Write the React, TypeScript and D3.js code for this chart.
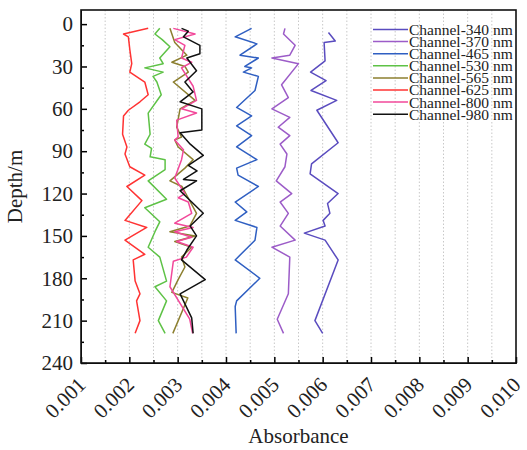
import * as d3 from "d3";
import { useEffect, useRef } from "react";

// depth (m) and absorbance, one pair of arrays per channel
const depth340 = [6, 12, 13, 26, 34, 40, 47, 54, 61, 84, 99, 106, 120, 127, 134, 139, 143, 148, 153, 167, 210, 219];
const abs340 = [0.00612, 0.00626, 0.00603, 0.00605, 0.00575, 0.00607, 0.00576, 0.00629, 0.00588, 0.00632, 0.00577, 0.00574, 0.00632, 0.0061, 0.00615, 0.00601, 0.00605, 0.00562, 0.00605, 0.00632, 0.00584, 0.006];

const depth370 = [3, 7, 15, 22, 24, 28, 43, 52, 60, 66, 73, 79, 85, 92, 101, 111, 120, 126, 134, 143, 153, 158, 165, 191, 209, 219];
const abs370 = [0.00522, 0.00519, 0.00543, 0.00532, 0.00495, 0.0055, 0.00515, 0.00529, 0.00495, 0.00532, 0.00508, 0.00532, 0.00512, 0.00526, 0.00522, 0.00504, 0.00536, 0.00512, 0.00529, 0.00512, 0.00543, 0.00495, 0.00532, 0.00529, 0.00506, 0.00519];

const depth465 = [3, 9, 14, 22, 24, 30, 31, 34, 37, 47, 59, 65, 72, 79, 87, 96, 102, 107, 115, 126, 133, 139, 144, 153, 167, 180, 196, 200, 219];
const abs465 = [0.00453, 0.00419, 0.00464, 0.00429, 0.00467, 0.00439, 0.00453, 0.00436, 0.00467, 0.0046, 0.00422, 0.00453, 0.00422, 0.00453, 0.00422, 0.00464, 0.00422, 0.00425, 0.00467, 0.00419, 0.00443, 0.00419, 0.00464, 0.0046, 0.00419, 0.0047, 0.00422, 0.00419, 0.00421];

const depth530 = [3, 7, 11, 16, 24, 28, 31, 34, 37, 41, 50, 63, 78, 85, 88, 94, 96, 103, 111, 124, 130, 140, 147, 158, 165, 182, 186, 196, 210, 219];
const abs530 = [0.00263, 0.00253, 0.00268, 0.00284, 0.00263, 0.0027, 0.00232, 0.0027, 0.00249, 0.00257, 0.00266, 0.00239, 0.00243, 0.00232, 0.00246, 0.00243, 0.00274, 0.00274, 0.00239, 0.00277, 0.00232, 0.00263, 0.00253, 0.00239, 0.00263, 0.00277, 0.00253, 0.00277, 0.0026, 0.00274];

const depth565 = [3, 13, 22, 27, 30, 34, 41, 54, 60, 73, 80, 82, 87, 96, 102, 111, 115, 134, 143, 147, 150, 154, 158, 165, 172, 181, 190, 194, 219];
const abs565 = [0.00284, 0.00294, 0.00319, 0.00288, 0.00315, 0.00322, 0.00291, 0.00336, 0.00305, 0.00298, 0.00308, 0.00294, 0.00301, 0.00332, 0.00315, 0.00284, 0.00309, 0.00339, 0.00325, 0.00284, 0.00336, 0.00294, 0.00329, 0.00308, 0.00315, 0.00301, 0.00288, 0.00321, 0.0029];

const depth625 = [3, 7, 9, 18, 28, 34, 41, 50, 55, 61, 65, 78, 87, 92, 101, 107, 115, 125, 139, 144, 153, 163, 167, 182, 191, 196, 210, 219];
const abs625 = [0.00239, 0.00188, 0.00198, 0.00201, 0.00205, 0.00201, 0.00232, 0.00239, 0.00222, 0.00198, 0.00188, 0.00186, 0.00195, 0.00191, 0.00201, 0.00232, 0.00195, 0.00226, 0.00191, 0.00236, 0.00191, 0.00232, 0.00208, 0.00212, 0.00222, 0.00215, 0.00222, 0.00212];

const depth800 = [3, 7, 11, 15, 24, 27, 31, 44, 54, 60, 63, 68, 80, 82, 89, 96, 109, 120, 123, 126, 134, 141, 144, 147, 151, 154, 158, 165, 168, 186, 209, 219];
const abs800 = [0.00291, 0.00336, 0.00294, 0.00315, 0.00308, 0.00329, 0.00308, 0.00332, 0.00339, 0.00308, 0.00339, 0.00298, 0.00301, 0.00294, 0.00312, 0.00308, 0.00294, 0.00315, 0.00301, 0.00322, 0.00329, 0.00294, 0.00332, 0.00294, 0.00329, 0.00298, 0.00332, 0.00318, 0.00291, 0.00284, 0.00325, 0.00331];

const depth980 = [3, 5, 9, 15, 21, 24, 33, 41, 48, 55, 60, 75, 77, 85, 93, 100, 104, 110, 111, 118, 126, 134, 143, 150, 160, 167, 181, 191, 208, 219];
const abs980 = [0.00308, 0.00322, 0.00312, 0.00346, 0.00346, 0.00319, 0.00339, 0.00315, 0.00332, 0.00305, 0.0035, 0.0035, 0.00305, 0.00326, 0.00353, 0.00322, 0.0034, 0.00312, 0.00339, 0.00305, 0.00329, 0.00353, 0.00326, 0.00339, 0.00319, 0.00308, 0.00357, 0.00305, 0.00329, 0.00332];

const channelNames = ["Channel-340 nm", "Channel-370 nm", "Channel-465 nm", "Channel-530 nm", "Channel-565 nm", "Channel-625 nm", "Channel-800 nm", "Channel-980 nm"];
const channelColors = ["#5a4cbf", "#9c5cc8", "#2f5fc2", "#5ec246", "#8c7f2f", "#ff3333", "#f2489a", "#111111"];
const depthLists = [depth340, depth370, depth465, depth530, depth565, depth625, depth800, depth980];
const absLists = [abs340, abs370, abs465, abs530, abs565, abs625, abs800, abs980];

const xTicks = [0.001, 0.002, 0.003, 0.004, 0.005, 0.006, 0.007, 0.008, 0.009, 0.01];
const yTicks = [0, 30, 60, 90, 120, 150, 180, 210, 240];

const width = 527;
const height = 450;
const marginTop = 10;
const marginRight = 11;
const marginBottom = 87;
const marginLeft = 81;
const font = "Liberation Serif, Times New Roman, DejaVu Serif, serif";

export default function App() {
  const ref = useRef<SVGSVGElement>(null);

  useEffect(() => {
    const svg = d3.select(ref.current);
    svg.selectAll("*").remove();

    const x = d3.scaleLinear().domain([0.001, 0.01]).range([marginLeft, width - marginRight]);
    const y = d3.scaleLinear().domain([-10, 240]).range([marginTop, height - marginBottom]);

    // dotted vertical grid every 0.0005
    const gridVals = d3.range(3, 20).map((i) => i * 0.0005);
    svg
      .append("g")
      .selectAll("line")
      .data(gridVals)
      .join("line")
      .attr("x1", (d) => x(d))
      .attr("x2", (d) => x(d))
      .attr("y1", marginTop)
      .attr("y2", height - marginBottom)
      .attr("stroke", "#c8c8c8")
      .attr("stroke-width", 1)
      .attr("stroke-dasharray", "1.5,2");

    const line = d3
      .line<[number, number]>()
      .x((d) => x(d[1]))
      .y((d) => y(d[0]));

    const series = channelNames.map((name, i) => ({
      name,
      color: channelColors[i],
      pts: depthLists[i].map((dep, j) => [dep, absLists[i][j]] as [number, number]),
    }));

    svg
      .append("g")
      .selectAll("path")
      .data(series)
      .join("path")
      .attr("fill", "none")
      .attr("stroke", (d) => d.color)
      .attr("stroke-width", 1.5)
      .attr("stroke-linejoin", "round")
      .attr("d", (d) => line(d.pts));

    // left axis, ticks pointing inward
    svg
      .append("g")
      .attr("transform", `translate(${marginLeft},0)`)
      .call(d3.axisLeft(y).tickValues(yTicks).tickSize(-6).tickSizeOuter(0).tickPadding(8));
    svg
      .append("g")
      .attr("transform", `translate(${marginLeft},0)`)
      .call(d3.axisLeft(y).tickValues(d3.range(15, 240, 30)).tickSize(-3).tickFormat(() => "").tickSizeOuter(0));

    // bottom axis
    svg
      .append("g")
      .attr("transform", `translate(0,${height - marginBottom})`)
      .call(d3.axisBottom(x).tickValues(xTicks).tickSize(-6).tickFormat(() => "").tickSizeOuter(0));
    svg
      .append("g")
      .attr("transform", `translate(0,${height - marginBottom})`)
      .call(d3.axisBottom(x).tickValues(d3.range(3, 20, 2).map((i) => i * 0.0005)).tickSize(-3).tickFormat(() => "").tickSizeOuter(0));
    svg.selectAll(".tick line").attr("stroke-width", 1.5);
    svg.selectAll(".tick text").style("font-family", font).style("font-size", "21px").attr("fill", "#222");

    svg
      .append("g")
      .selectAll("text")
      .data(xTicks)
      .join("text")
      .attr("transform", (d) => `translate(${x(d) + 6},${height - marginBottom + 23}) rotate(-45)`)
      .attr("text-anchor", "end")
      .style("font-size", "21px")
      .style("font-family", font)
      .attr("fill", "#222")
      .text((d) => d3.format(".3f")(d));

    // frame
    svg
      .append("rect")
      .attr("x", marginLeft)
      .attr("y", marginTop)
      .attr("width", width - marginLeft - marginRight)
      .attr("height", height - marginTop - marginBottom)
      .attr("fill", "none")
      .attr("stroke", "#111")
      .attr("stroke-width", 1.6);

    svg
      .append("text")
      .attr("x", (marginLeft + width - marginRight) / 2)
      .attr("y", 443)
      .attr("text-anchor", "middle")
      .style("font-size", "21px")
      .style("font-family", font)
      .attr("fill", "#222")
      .text("Absorbance");

    svg
      .append("text")
      .attr("transform", `translate(22,${(marginTop + height - marginBottom) / 2}) rotate(-90)`)
      .attr("text-anchor", "middle")
      .style("font-size", "21px")
      .style("font-family", font)
      .attr("fill", "#222")
      .text("Depth/m");

    // legend
    const legend = svg
      .append("g")
      .selectAll("g")
      .data(series)
      .join("g")
      .attr("transform", (_, i) => `translate(373,${29.5 + i * 12.1})`);
    legend
      .append("line")
      .attr("x1", 0)
      .attr("x2", 35)
      .attr("stroke", (d) => d.color)
      .attr("stroke-width", 1.5);
    legend
      .append("text")
      .attr("x", 36)
      .attr("dy", "0.35em")
      .style("font-size", "15.5px")
      .style("font-family", font)
      .attr("fill", "#222")
      .text((d) => d.name);
  }, []);

  return (
    <svg
      ref={ref}
      width={width}
      height={height}
      style={{ position: "absolute", left: 0, top: 0, background: "#fff" }}
    />
  );
}
